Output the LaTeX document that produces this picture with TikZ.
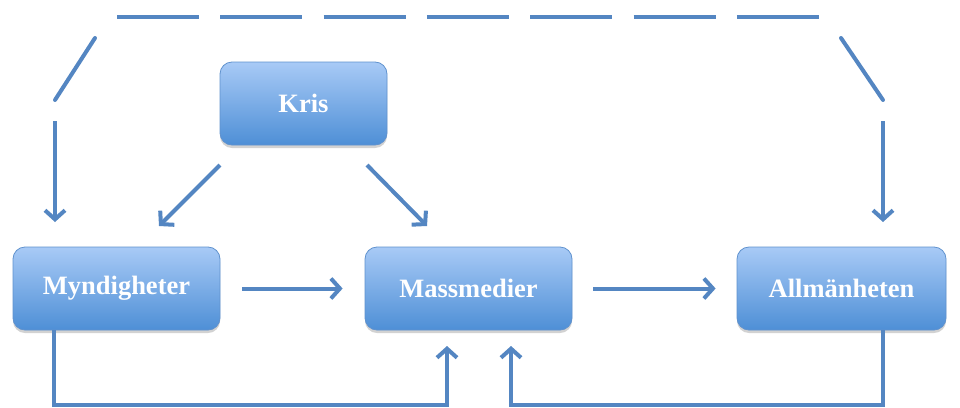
\documentclass[tikz,border=0pt]{standalone}
\usepackage{fontspec}
\setmainfont{Liberation Serif}
\usetikzlibrary{arrows.meta,shadows,calc}
\definecolor{linec}{RGB}{84,134,194}
\definecolor{boxtop}{RGB}{168,202,246}
\definecolor{boxbot}{RGB}{78,143,214}
\definecolor{boxline}{RGB}{96,146,206}
\tikzset{
  box/.style={rectangle, rounded corners=12pt, draw=boxline, line width=0.8pt,
    top color=boxtop, bottom color=boxbot, inner sep=0pt,
    minimum height=83pt, text=white,
    font=\fontsize{26.5}{30}\selectfont\bfseries,
    drop shadow={shadow xshift=0pt, shadow yshift=-3pt, opacity=0.25, fill=black!70}},
  conn/.style={draw=linec, line width=4pt},
  arr/.style={conn, -{Straight Barb[length=9pt,width=20pt,line width=4pt]}},
}
\begin{document}
\begin{tikzpicture}[x=1pt,y=-1pt]
\useasboundingbox (0,0) rectangle (960,407);
\fill[white] (0,0) rectangle (960,407);
% boxes
\node[box, minimum width=167pt] (kris) at (303.5,103.5) {Kris};
\node[box, minimum width=207pt] (my) at (116.5,288.5) {Myndigheter};
\node[box, minimum width=207pt] (mm) at (468.5,288.5) {Massmedier};
\node[box, minimum width=209pt] (al) at (841.5,288.5) {Allmänheten};
% coordinates
\coordinate (tl) at (117,17);
\coordinate (tr) at (820,17);
\coordinate (dl1) at (95,38);
\coordinate (dl2) at (55,100);
\coordinate (dr1) at (841,38);
\coordinate (dr2) at (883,100);
\coordinate (vl1) at (55,121);
\coordinate (vl2) at (55,222);
\coordinate (vr1) at (883,121);
\coordinate (vr2) at (883,222);
\coordinate (k1) at (220,165);
\coordinate (k1e) at (159,226);
\coordinate (k2) at (367,165);
\coordinate (k2e) at (427,226);
\coordinate (bl) at (54,405);
\coordinate (blr) at (447,405);
\coordinate (bla) at (447,346);
\coordinate (br) at (883,405);
\coordinate (brl) at (511,405);
\coordinate (bra) at (511,346);
% top dashed loop
\draw[conn, dash pattern=on 82pt off 21.3pt] (tl) -- (tr);
\draw[conn, line cap=round] (dl1) -- (dl2);
\draw[conn, line cap=round] (dr1) -- (dr2);
\draw[arr] (vl1) -- (vl2);
\draw[arr] (vr1) -- (vr2);
% Kris arrows
\draw[arr] (k1) -- (k1e);
\draw[arr] (k2) -- (k2e);
% horizontal arrows
\draw[arr] ($(my.east)+(22,0)$) -- ($(mm.west)+(-22,0)$);
\draw[arr] ($(mm.east)+(21,0)$) -- ($(al.west)+(-21,0)$);
% bottom feedback
\draw[arr] (my.south -| bl) -- (bl) -- (blr) -- (bla);
\draw[arr] (al.south -| br) -- (br) -- (brl) -- (bra);
\end{tikzpicture}
\end{document}
